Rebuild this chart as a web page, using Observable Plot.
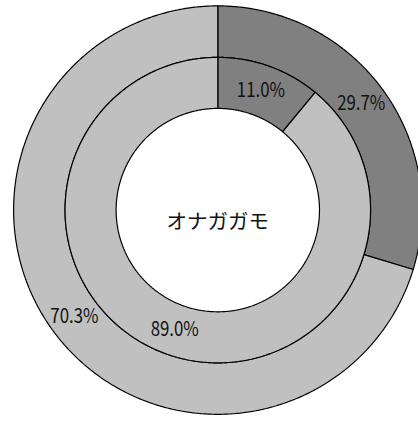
<!DOCTYPE html>
<html><head><meta charset="utf-8">
<script src="https://cdn.jsdelivr.net/npm/d3@7"></script>
<script src="https://cdn.jsdelivr.net/npm/@observablehq/plot@0.6"></script>
<style>
html,body{margin:0;padding:0;background:#fff;overflow:hidden}
svg{overflow:hidden}
</style>
</head><body><div id="chart"></div>
<script>
// ---- data ----
const centerLabel = "オナガガモ";
const categories = ["該当", "その他"];
const outerValues = [29.7, 70.3];
const innerValues = [11.0, 89.0];
const colors = ["#808080", "#c0c0c0"];

// ---- layout (unit-circle radii) ----
const rings = [
  {name: "outer", values: outerValues, r0: 0.748, r1: 1.0},
  {name: "inner", values: innerValues, r0: 0.498, r1: 0.748}
];

const polys = [];
const labels = [];
for (const ring of rings) {
  const total = d3.sum(ring.values);
  let cum = 0;
  ring.values.forEach((v, i) => {
    const a0 = cum / total * 2 * Math.PI;
    cum += v;
    const a1 = cum / total * 2 * Math.PI;
    const id = ring.name + i;
    const n = Math.max(2, Math.ceil((a1 - a0) / (Math.PI / 360)));
    const pts = [];
    for (let k = 0; k <= n; k++) {
      const a = a0 + (a1 - a0) * k / n;
      pts.push({id, cat: categories[i], x: ring.r1 * Math.sin(a), y: ring.r1 * Math.cos(a)});
    }
    for (let k = n; k >= 0; k--) {
      const a = a0 + (a1 - a0) * k / n;
      pts.push({id, cat: categories[i], x: ring.r0 * Math.sin(a), y: ring.r0 * Math.cos(a)});
    }
    pts.push({...pts[0]});
    polys.push(...pts);
    const am = (a0 + a1) / 2, rm = (ring.r0 + ring.r1) / 2;
    labels.push({x: rm * Math.sin(am), y: rm * Math.cos(am), text: v.toFixed(1) + "%"});
  });
}

const font = "'Noto Sans CJK JP', 'Noto Sans', sans-serif";
const chart = Plot.plot({
  width: 418,
  height: 421,
  margin: 0,
  x: {domain: [-1, 1], range: [13.1, 421.5], axis: null},
  y: {domain: [-1, 1], range: [413.8, 5.4], axis: null},
  color: {domain: categories, range: colors},
  marks: [
    Plot.line(polys, {x: "x", y: "y", z: "id", fill: "cat", stroke: "black", strokeWidth: 1.2, curve: "linear", strokeLinejoin: "miter"}),
    Plot.text(labels, {x: "x", y: "y", text: "text", fontSize: 20, fontFamily: font, fill: "#111"}),
    Plot.text([{x: 0, y: 0, t: centerLabel}], {x: "x", y: "y", text: "t", dy: 12, fontSize: 20.5, fontFamily: font, fill: "#111"})
  ]
});
document.getElementById("chart").appendChild(chart);
// condense the percentage labels horizontally (narrow gothic digits in the original)
chart.querySelectorAll("text").forEach(t => {
  if (t.textContent.trim().endsWith("%")) {
    const w = t.getComputedTextLength();
    t.setAttribute("textLength", (w * 0.84).toFixed(1));
    t.setAttribute("lengthAdjust", "spacingAndGlyphs");
  }
});
</script>
</body></html>
